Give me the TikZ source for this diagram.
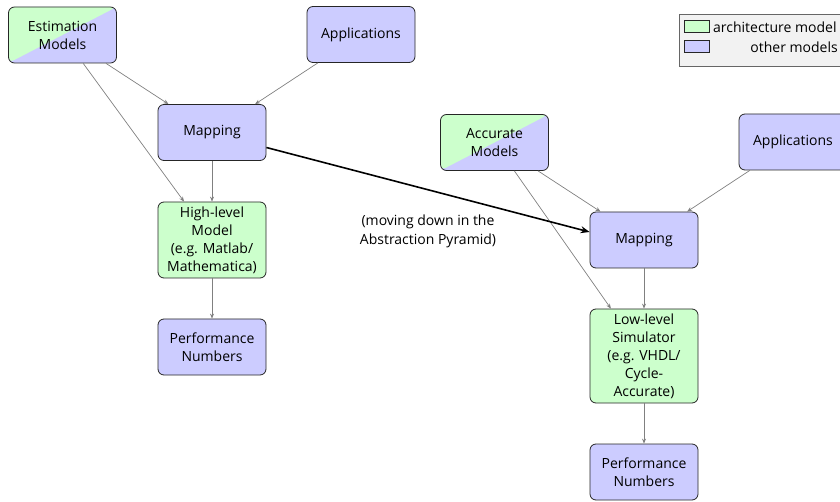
\documentclass[tikz,border=0pt]{standalone}
\usepackage{fontspec}
\setmainfont{Open Sans}
\usetikzlibrary{arrows.meta,calc}
\definecolor{archgreen}{RGB}{204,255,204}
\definecolor{otherblue}{RGB}{204,204,255}
\definecolor{legendbg}{RGB}{242,242,242}
\definecolor{edgegray}{RGB}{128,128,128}
\tikzset{
  box/.style={draw=black!85, line width=0.8pt, rounded corners=6pt,
    minimum width=108pt, minimum height=56pt, align=center,
    inner sep=2pt, font=\fontsize{14}{18}\selectfont},
  archbox/.style={box, fill=archgreen},
  otherbox/.style={box, fill=otherblue},
  splitbox/.style={box, fill=otherblue,
    path picture={\fill[archgreen] (path picture bounding box.south west)
      -- (path picture bounding box.north west)
      -- (path picture bounding box.north east) -- cycle;}},
  flow/.style={draw=edgegray, line width=0.7pt,
    -{Stealth[length=5pt,width=4pt]}},
  jump/.style={draw=black, line width=1.6pt,
    -{Stealth[length=9pt,width=7pt]}},
  swatch/.style={draw=black!85, line width=0.6pt, minimum width=25pt,
    minimum height=12pt, inner sep=0pt},
  legtext/.style={font=\fontsize{14}{18}\selectfont, inner sep=0pt}
}
\begin{document}
\begin{tikzpicture}[x=1pt,y=-1pt]
\useasboundingbox (0,0) rectangle (840,502);
\clip (0,0) rectangle (840,502);

% left flow: abstract estimation
\node[splitbox] (est) at (62.5,35) {Estimation\\Models};
\node[otherbox] (appL) at (361,34.5) {Applications};
\node[otherbox] (mapL) at (212,132.5) {Mapping};
\node[archbox, minimum height=76pt] (high) at (212,240) {High-level\\Model\\(e.g. Matlab/\\Mathematica)};
\node[otherbox] (perfL) at (212,347) {Performance\\Numbers};

% right flow: accurate simulation
\node[splitbox] (acc) at (494.5,142.5) {Accurate\\Models};
\node[otherbox] (appR) at (793,142) {Applications};
\node[otherbox] (mapR) at (644,240) {Mapping};
\node[archbox, minimum height=94pt] (low) at (644,356) {Low-level\\Simulator\\(e.g. VHDL/\\Cycle-\\Accurate)};
\node[otherbox] (perfR) at (644,472) {Performance\\Numbers};

% connectors
\draw[flow] (est) -- (mapL);
\draw[flow] (appL) -- (mapL);
\draw[flow] (est) -- (high);
\draw[flow] (mapL) -- (high);
\draw[flow] (high) -- (perfL);

\draw[flow] (acc) -- (mapR);
\draw[flow] (appR) -- (mapR);
\draw[flow] (acc) -- (low);
\draw[flow] (mapR) -- (low);
\draw[flow] (low) -- (perfR);

\draw[jump] ([yshift=-15pt]mapL.east) -- ([yshift=8pt]mapR.west);
\node[align=center, font=\fontsize{14}{19}\selectfont] (note) at (428,231)
  {(moving down in the\\Abstraction Pyramid)};

% legend
\node[draw=black!60, fill=legendbg, line width=0.7pt, minimum width=170pt,
  minimum height=52pt, inner sep=0pt, anchor=north west] (legend) at (679,14) {};
\node[swatch, fill=archgreen, anchor=north west] (swA) at (684,20) {};
\node[swatch, fill=otherblue, anchor=north west] (swO) at (684,40) {};
\node[legtext, anchor=west] (txA) at (713,27) {architecture model};
\node[legtext, anchor=east] (txO) at (838,47) {other models};
\end{tikzpicture}
\end{document}
